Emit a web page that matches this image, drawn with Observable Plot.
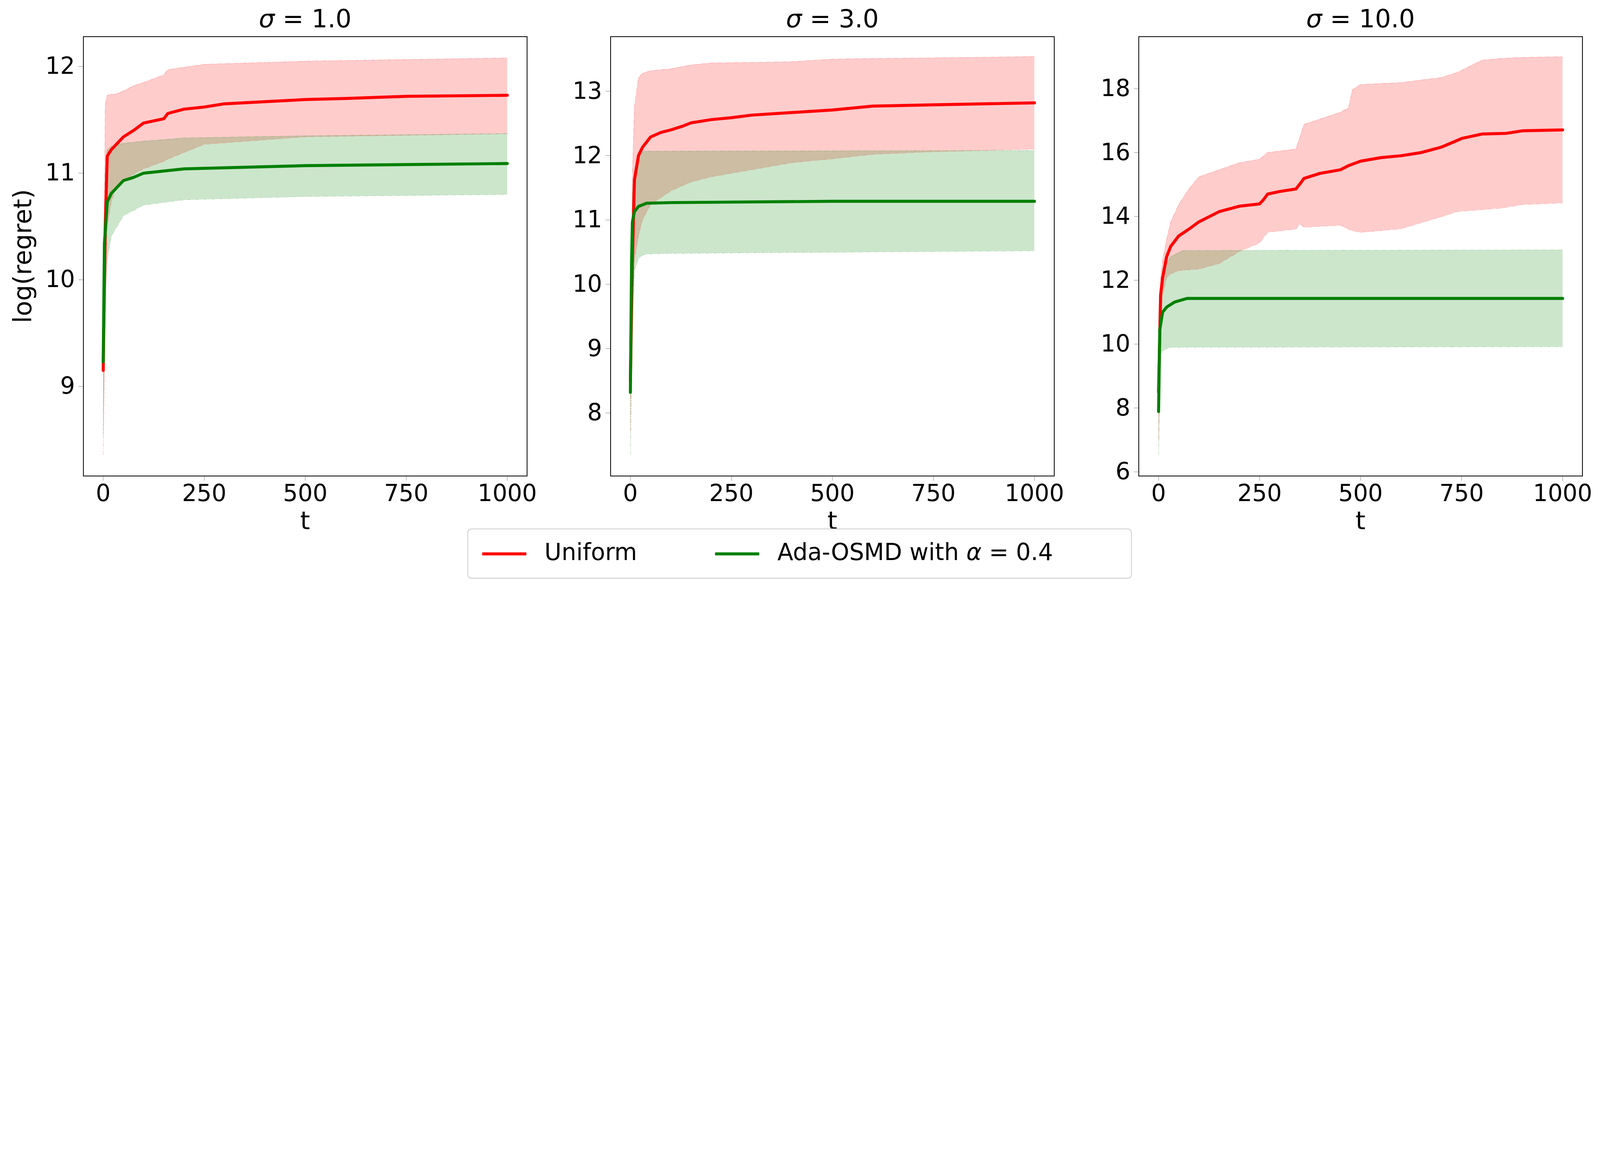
<!DOCTYPE html>
<html><head><meta charset="utf-8">
<script src="https://cdn.jsdelivr.net/npm/d3@7"></script>
<script src="https://cdn.jsdelivr.net/npm/@observablehq/plot@0.6"></script>
<style>
html,body{margin:0;background:#fff;font-family:"DejaVu Sans",sans-serif;overflow:hidden;}
#wrap{position:relative;width:7970px;height:2965px;transform-origin:0 0;}
.panel{position:absolute;top:0;}
.title{position:absolute;font-size:125px;text-align:center;width:2200px;top:20px;}
.leg{position:absolute;left:2328px;top:2633px;width:3310px;height:250px;border:4px solid #ccc;border-radius:20px;box-sizing:border-box;font-size:116px;}
</style></head><body><div id="wrap"></div>
<script>
const titles = ["1.0", "3.0", "10.0"];
const yTicks = [[9,10,11,12],[8,9,10,11,12,13],[6,8,10,12,14,16,18]];
const yDomains = [[8.16,12.28],[7.02,13.85],[5.87,19.63]];
const xTicks = [0,250,500,750,1000];

// sigma = 1.0
const u1T   = [0,5,10,20,50,75,100,150,160,200,250,300,400,500,600,750,1000];
const u1M   = [9.15,10.5,11.16,11.22,11.34,11.4,11.47,11.51,11.56,11.6,11.62,11.65,11.67,11.69,11.70,11.72,11.73];
const u1bT  = [0,5,10,20,30,50,75,100,150,160,250,500,1000];
const u1Hi  = [9.15,11.64,11.73,11.74,11.74,11.77,11.82,11.85,11.92,11.97,12.02,12.05,12.08];
const u1Lo  = [8.36,9.7,10.5,10.73,10.85,10.93,10.99,11.04,11.11,11.13,11.27,11.34,11.37];
const a1T   = [0,3,10,20,50,75,100,150,200,300,500,750,1000];
const a1M   = [9.23,10.34,10.73,10.81,10.93,10.96,11.0,11.02,11.04,11.05,11.07,11.08,11.09];
const a1bT  = [0,5,10,20,50,100,200,500,1000];
const a1Hi  = [9.23,11.0,11.22,11.25,11.28,11.30,11.33,11.35,11.37];
const a1Lo  = [8.55,9.85,10.18,10.41,10.60,10.70,10.75,10.78,10.80];

// sigma = 3.0
const u2T   = [0,5,10,20,30,50,75,100,130,150,200,250,300,400,500,600,750,1000];
const u2M   = [8.5,10.37,11.62,12.0,12.13,12.29,12.36,12.4,12.46,12.51,12.56,12.59,12.63,12.67,12.71,12.77,12.79,12.82];
const u2bT  = [0,5,10,20,30,50,100,150,200,300,400,500,600,750,1000];
const u2Hi  = [8.5,11.72,12.75,13.21,13.28,13.32,13.35,13.41,13.44,13.45,13.46,13.5,13.51,13.52,13.54];
const u2Lo  = [7.72,9.56,10.37,10.75,11.0,11.24,11.45,11.59,11.67,11.78,11.89,11.95,12.02,12.06,12.1];
const a2T   = [0,3,5,10,20,40,100,500,1000];
const a2M   = [8.32,10.37,10.97,11.13,11.21,11.26,11.27,11.29,11.29];
const a2bT  = [0,5,10,20,30,40,100,1000];
const a2Hi  = [8.32,11.4,11.78,12.02,12.06,12.07,12.07,12.08];
const a2Lo  = [7.35,9.56,10.21,10.4,10.45,10.47,10.48,10.52];

// sigma = 10.0
const u3T   = [0,5,10,20,30,50,75,100,150,200,250,260,270,300,340,350,360,400,450,470,500,550,600,650,700,730,750,800,860,900,1000];
const u3M   = [8.5,11.54,12.08,12.74,13.06,13.39,13.6,13.83,14.15,14.32,14.39,14.53,14.7,14.78,14.86,15.02,15.19,15.35,15.46,15.59,15.73,15.84,15.9,16.0,16.17,16.33,16.44,16.58,16.6,16.68,16.71];
const u3bT  = [0,5,10,20,30,50,75,100,150,200,250,270,340,350,360,450,470,480,500,600,700,740,800,850,900,1000];
const u3Hi  = [8.5,12.08,12.63,13.28,13.83,14.37,14.86,15.24,15.46,15.68,15.79,16.0,16.11,16.5,16.88,17.26,17.4,17.97,18.13,18.19,18.35,18.51,18.89,18.95,18.98,19.0];
const u3Lo  = [7.0,10.45,11.54,12.08,12.2,12.3,12.33,12.35,12.52,12.9,13.17,13.5,13.6,13.77,13.66,13.72,13.6,13.55,13.5,13.61,13.99,14.15,14.21,14.26,14.37,14.42];
const a3T   = [0,3,10,20,40,70,1000];
const a3M   = [7.89,10.45,11.0,11.16,11.32,11.43,11.43];
const a3bT  = [0,5,10,30,60,1000];
const a3Hi  = [7.89,11.54,12.3,12.74,12.93,12.95];
const a3Lo  = [6.52,9.68,9.8,9.9,9.9,9.92];

const panels = [
  {u:[u1T,u1M,u1bT,u1Hi,u1Lo], a:[a1T,a1M,a1bT,a1Hi,a1Lo]},
  {u:[u2T,u2M,u2bT,u2Hi,u2Lo], a:[a2T,a2M,a2bT,a2Hi,a2Lo]},
  {u:[u3T,u3M,u3bT,u3Hi,u3Lo], a:[a3T,a3M,a3bT,a3Hi,a3Lo]}
];
const frameLeft = [415, 3041, 5672];
const frameW = 2210;
const mL = 400, mT = 182, plotH = 2700, frameB = 2371;

const wrap = document.getElementById("wrap");
const fit = () => { const s = Math.min(window.innerWidth / 7970, window.innerHeight / 2965); wrap.style.transform = `scale(${s})`; };
fit(); window.addEventListener("resize", fit);
const tbl = (ts, vs) => ts.map((t,i)=>({t, v:vs[i]}));
const bnd = (ts, hi, lo) => ts.map((t,i)=>({t, hi:hi[i], lo:lo[i]}));

panels.forEach((p, k) => {
  const uLine = tbl(p.u[0], p.u[1]), uBand = bnd(p.u[2], p.u[3], p.u[4]);
  const aLine = tbl(p.a[0], p.a[1]), aBand = bnd(p.a[2], p.a[3], p.a[4]);
  const chart = Plot.plot({
    width: mL + frameW + 60, height: plotH,
    marginLeft: mL, marginRight: 60, marginTop: mT, marginBottom: plotH - frameB,
    style: {fontFamily: "DejaVu Sans", fontSize: "116px", color: "#000", background: "transparent"},
    x: {domain: [-49, 1049], ticks: xTicks, tickFormat: d3.format("d"), tickSize: 24, tickPadding: 18, label: null},
    y: {domain: yDomains[k], ticks: yTicks[k], tickFormat: d3.format("d"), tickSize: 24, tickPadding: 18, label: null},
    marks: [
      Plot.areaY(uBand, {x: "t", y1: "lo", y2: "hi", fill: "red", fillOpacity: 0.2}),
      Plot.lineY(uBand, {x: "t", y: "hi", stroke: "red", strokeOpacity: 0.2, strokeWidth: 3, strokeDasharray: "20,8,4,8"}),
      Plot.lineY(uBand, {x: "t", y: "lo", stroke: "red", strokeOpacity: 0.2, strokeWidth: 3, strokeDasharray: "20,8,4,8"}),
      Plot.areaY(aBand, {x: "t", y1: "lo", y2: "hi", fill: "green", fillOpacity: 0.2}),
      Plot.lineY(aBand, {x: "t", y: "hi", stroke: "green", strokeOpacity: 0.2, strokeWidth: 3, strokeDasharray: "20,8,4,8"}),
      Plot.lineY(aBand, {x: "t", y: "lo", stroke: "green", strokeOpacity: 0.2, strokeWidth: 3, strokeDasharray: "20,8,4,8"}),
      Plot.lineY(uLine, {x: "t", y: "v", stroke: "red", strokeWidth: 15}),
      Plot.lineY(aLine, {x: "t", y: "v", stroke: "green", strokeWidth: 15}),
      Plot.frame({stroke: "#000", strokeWidth: 4})
    ]
  });
  chart.classList.add("panel");
  chart.style.left = (frameLeft[k] - mL) + "px";
  chart.style.position = "absolute";
  wrap.appendChild(chart);
  const tt = document.createElement("div");
  tt.className = "title";
  tt.style.left = (frameLeft[k] + frameW/2 - 1100) + "px";
  tt.innerHTML = '<i>σ</i> = ' + titles[k];
  wrap.appendChild(tt);
  const xl = document.createElement("div");
  xl.className = "title";
  xl.style.top = "2520px";
  xl.style.left = (frameLeft[k] + frameW/2 - 1100) + "px";
  xl.textContent = "t";
  wrap.appendChild(xl);
});

const yl = document.createElement("div");
yl.style.cssText = "position:absolute;left:112px;top:1276px;font-size:125px;transform:translate(-50%,-50%) rotate(-90deg);white-space:nowrap;";
yl.textContent = "log(regret)";
wrap.appendChild(yl);

const legendLabels = ["Uniform", 'Ada-OSMD with <i>α</i> = 0.4'];
const legendColors = ["red", "green"];
const leg = document.createElement("div");
leg.className = "leg";
leg.innerHTML =
  `<div style="position:absolute;left:70px;top:115px;width:220px;height:15px;background:${legendColors[0]}"></div>
   <div style="position:absolute;left:380px;top:45px;">${legendLabels[0]}</div>
   <div style="position:absolute;left:1230px;top:115px;width:220px;height:15px;background:${legendColors[1]}"></div>
   <div style="position:absolute;left:1540px;top:45px;">${legendLabels[1]}</div>`;
wrap.appendChild(leg);
</script></body></html>
